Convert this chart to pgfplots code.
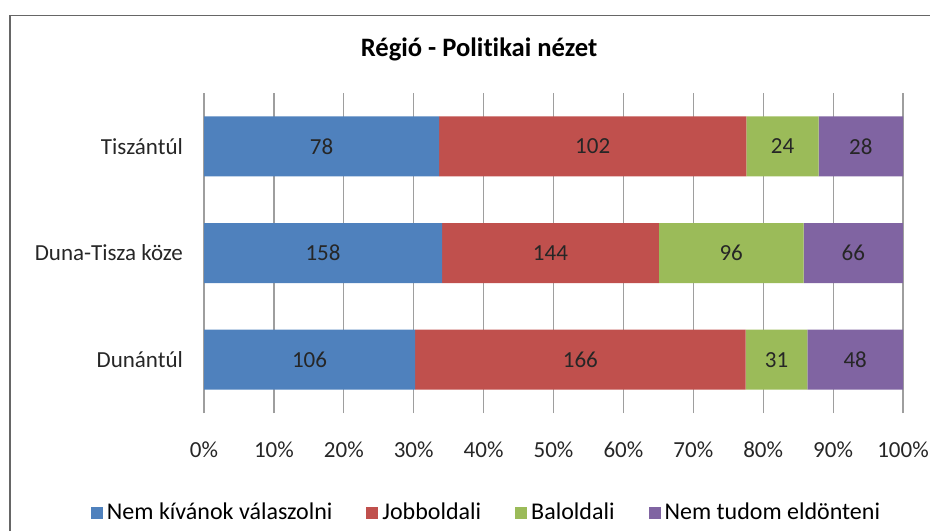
\documentclass[border=0pt]{standalone}
\usepackage{pgfplots}
\usepackage{pgfplotstable}
\pgfplotsset{compat=1.18}
\usepackage{fontspec}
\setmainfont{Carlito}[Ligatures=NoCommon]

\definecolor{xblue}{HTML}{4F81BD}
\definecolor{xred}{HTML}{C0504D}
\definecolor{xgreen}{HTML}{9BBB59}
\definecolor{xpurple}{HTML}{8064A2}
\definecolor{frame}{HTML}{666666}

% y: 0 = Dunántúl, 1 = Duna-Tisza köze, 2 = Tiszántúl
% p* = share of the row (%), n* = count shown on the bar
\pgfplotstableread{
y  pa     na   pb     nb   pc     nc  pd     nd
0  30.20  106  47.29  166  8.83   31  13.68  48
1  34.05  158  31.03  144  20.69  96  14.22  66
2  33.62  78   43.97  102  10.34  24  12.07  28
}\regio

\begin{document}
\begin{tikzpicture}
\useasboundingbox (0,0) rectangle (465pt,265.5pt);
% chart area frame (cut off at right and bottom)
\draw[frame, line width=0.8pt] (5pt,0) -- (5pt,257.7pt) -- (465pt,257.7pt);
\node[font=\fontsize{13.3}{15}\selectfont\bfseries, anchor=base] at (239.5pt,237pt) {Régió - Politikai nézet};

\begin{axis}[
    at={(102pt,59pt)}, anchor=south west,
    scale only axis,
    width=349.5pt, height=160pt,
    xbar stacked,
    bar width=30pt,
    xmin=0, xmax=100,
    ymin=-0.5, ymax=2.5,
    xtick={0,10,...,100},
    ytick={0,1,2},
    yticklabels={Dunántúl,Duna-Tisza köze,Tiszántúl},
    xticklabel={\pgfmathprintnumber{\tick}\%},
    /pgf/number format/assume math mode=true,
    axis line style={draw=none},
    tick style={draw=none},
    xmajorgrids,
    grid style={black!38, line width=0.6pt},
    ticklabel style={font=\fontsize{11.5}{13}\selectfont, text=black!85},
    xticklabel style={yshift=-11pt},
    yticklabel style={xshift=-7pt},
    nodes near coords,
    point meta=explicit symbolic,
    every node near coord/.append style={font=\fontsize{11.5}{13}\selectfont, text=black!85},
    legend style={at={(0.4056,-0.3125)}, anchor=center, draw=none,
        legend columns=4, font=\fontsize{12}{14}\selectfont,
        /tikz/every even column/.append style={column sep=15pt},
        inner sep=0pt},
    legend image code/.code={\fill[#1] (0pt,-3pt) rectangle (6pt,3pt);},
]
\addplot[fill=xblue, draw=none] table[x=pa, y=y, meta=na] {\regio};
\addlegendentry{Nem kívánok válaszolni}
\addplot[fill=xred, draw=none] table[x=pb, y=y, meta=nb] {\regio};
\addlegendentry{Jobboldali}
\addplot[fill=xgreen, draw=none] table[x=pc, y=y, meta=nc] {\regio};
\addlegendentry{Baloldali}
\addplot[fill=xpurple, draw=none] table[x=pd, y=y, meta=nd] {\regio};
\addlegendentry{Nem tudom eldönteni}
\end{axis}
\end{tikzpicture}
\end{document}
